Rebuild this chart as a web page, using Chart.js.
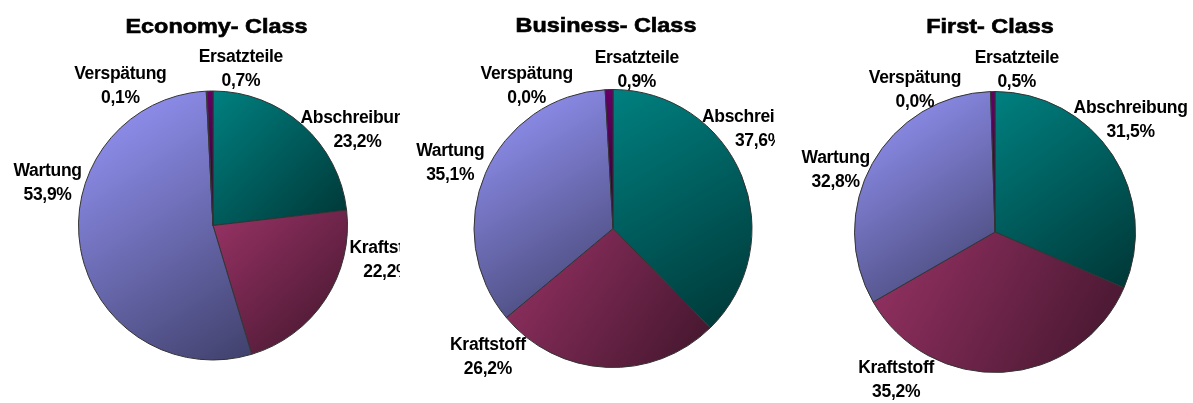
<!DOCTYPE html>
<html>
<head>
<meta charset="utf-8">
<title>Kostenstruktur nach Klasse</title>
<script src="https://cdn.jsdelivr.net/npm/chart.js@4/dist/chart.umd.min.js"></script>
<style>
  html, body { margin: 0; padding: 0; background: #fff; }
  #wrap { position: relative; width: 1193px; height: 403px; overflow: hidden; }
  .pane { position: absolute; top: 0; height: 403px; overflow: hidden; }
</style>
</head>
<body>
<div id="wrap">
  <div class="pane" style="left:0;width:400px"><canvas id="economyChart" width="400" height="403"></canvas></div>
  <div class="pane" style="left:400px;width:375px"><canvas id="businessChart" width="375" height="403"></canvas></div>
  <div class="pane" style="left:790px;width:403px"><canvas id="firstChart" width="403" height="403"></canvas></div>
</div>
<script>
// cost shares in percent, clockwise from 12 o'clock
const categories = ["Abschreibung", "Kraftstoff", "Wartung", "Verspätung", "Ersatzteile"];
const economyShares = [23.2, 22.2, 53.9, 0.1, 0.7];
const businessShares = [37.6, 26.2, 35.1, 0.0, 0.9];
const firstShares = [31.5, 35.2, 32.8, 0.0, 0.5];
const classTitles = ["Economy- Class", "Business- Class", "First- Class"];

const sliceColors = ["#008080", "#993366", "#9999FF", "#CCFFFF", "#660066"];

function darken(hex, f) {
  const n = parseInt(hex.slice(1), 16);
  const r = Math.round(((n >> 16) & 255) * f);
  const g = Math.round(((n >> 8) & 255) * f);
  const b = Math.round((n & 255) * f);
  return `rgb(${r},${g},${b})`;
}

// bounding box of one pie sector
function arcBox(arc) {
  const { x, y, startAngle, endAngle, outerRadius: r } =
    arc.getProps(["x", "y", "startAngle", "endAngle", "outerRadius"]);
  const xs = [x, x + r * Math.cos(startAngle), x + r * Math.cos(endAngle)];
  const ys = [y, y + r * Math.sin(startAngle), y + r * Math.sin(endAngle)];
  for (let k = -4; k <= 8; k++) {
    const a = (k * Math.PI) / 2;
    if (a > startAngle && a < endAngle) {
      xs.push(x + r * Math.cos(a));
      ys.push(y + r * Math.sin(a));
    }
  }
  return { x0: Math.min(...xs), y0: Math.min(...ys), x1: Math.max(...xs), y1: Math.max(...ys) };
}

const FONT = "'Liberation Sans', Arial, sans-serif";

const pieDecor = {
  id: "pieDecor",
  // corner-to-corner shading on every slice
  beforeDatasetsDraw(chart) {
    const ctx = chart.ctx;
    chart.getDatasetMeta(0).data.forEach((arc, i) => {
      const b = arcBox(arc);
      const base = sliceColors[i];
      const g = ctx.createLinearGradient(b.x0, b.y0, b.x1, b.y1);
      g.addColorStop(0, base);
      g.addColorStop(1, darken(base, 0.42));
      arc.options.backgroundColor = g;
    });
  },
  afterDraw(chart, args, opts) {
    const ctx = chart.ctx;
    const ds = chart.data.datasets[0];
    const first = chart.getDatasetMeta(0).data[0];
    const { x: cx, y: cy, outerRadius: r } = first.getProps(["x", "y", "outerRadius"]);

    ctx.save();
    ctx.fillStyle = "#000";
    ctx.strokeStyle = "#000";
    ctx.textAlign = "center";
    ctx.textBaseline = "middle";
    ctx.font = "bold 17.5px " + FONT;
    ctx.letterSpacing = "-0.3px";
    chart.data.labels.forEach((name, i) => {
      const [fx, fy] = opts.spots[i];
      const lx = cx + fx * r;
      const ly = cy + fy * r;
      const pct = ds.data[i].toFixed(1).replace(".", ",") + "%";
      ctx.fillText(name, lx, ly - 12);
      ctx.fillText(pct, lx, ly + 12);
    });

    // class title, slightly widened
    ctx.letterSpacing = "0px";
    ctx.font = "bold 20px " + FONT;
    ctx.lineWidth = 0.6;
    ctx.translate(cx + opts.titleShift, opts.titleY);
    ctx.scale(1.17, 1);
    ctx.fillText(opts.title, 0, 0);
    ctx.strokeText(opts.title, 0, 0);
    ctx.restore();
  },
};

function makePie(id, shares, title, padding, spots, titleShift, titleY) {
  return new Chart(document.getElementById(id), {
    type: "pie",
    data: {
      labels: categories,
      datasets: [
        {
          data: shares,
          backgroundColor: sliceColors,
          borderColor: "#333333",
          borderWidth: 1,
        },
      ],
    },
    options: {
      responsive: false,
      animation: false,
      events: [],
      layout: { padding },
      plugins: {
        legend: { display: false },
        tooltip: { enabled: false },
        pieDecor: { title, spots, titleShift, titleY },
      },
    },
    plugins: [pieDecor],
  });
}

makePie("economyChart", economyShares, classTitles[0],
  { left: 78, right: 52, top: 90, bottom: 42 },
  [[1.074, -0.707], [1.296, 0.256], [-1.23, -0.311], [-0.689, -1.033], [0.207, -1.159]],
  3.5, 27);

makePie("businessChart", businessShares, classTitles[1],
  { left: 73, right: 22, top: 89, bottom: 35 },
  [[1.05, -0.714], [-0.9, 0.925], [-1.171, -0.468], [-0.621, -1.025], [0.171, -1.139]],
  -7, 26);

makePie("firstChart", firstShares, classTitles[2],
  { left: 63, right: 56, top: 91, bottom: 30 },
  [[0.965, -0.799], [-0.704, 1.056], [-1.134, -0.437], [-0.57, -1.007], [0.155, -1.155]],
  -5, 27);
</script>
</body>
</html>
